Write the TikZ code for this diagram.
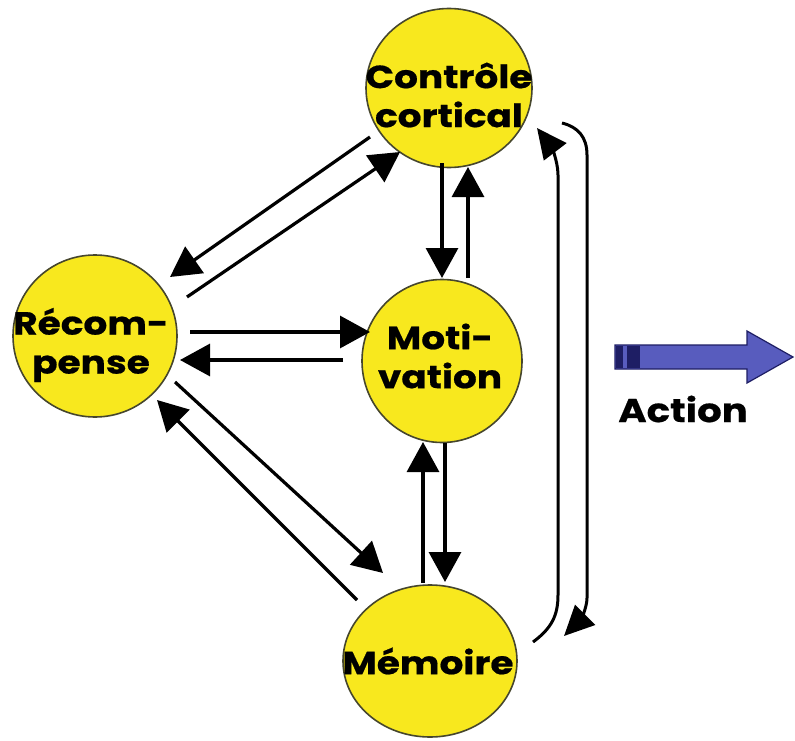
\documentclass[tikz,border=0pt]{standalone}
\usepackage{fontspec}
\setmainfont{Poppins}[BoldFeatures={FakeStretch=1.17,FakeBold=0.6}]
\usetikzlibrary{arrows.meta,calc,shapes.geometric}
\definecolor{cy}{RGB}{248,232,30}
\definecolor{co}{RGB}{70,70,45}
\definecolor{ab}{RGB}{88,92,190}
\definecolor{an}{RGB}{30,30,100}
\begin{document}
\begin{tikzpicture}[x=1pt,y=-1pt,
  bub/.style={ellipse, fill=cy, draw=co, line width=1.6pt, inner sep=0pt},
  arr/.style={line width=3.2pt, -{Triangle[length=30pt,width=32pt]}},
  brk/.style={line width=3pt, -{Triangle[length=30pt,width=28pt]}},
  lbl/.style={font=\fontsize{32}{39}\selectfont\bfseries, inner sep=0pt, align=center}]
\useasboundingbox (0,0) rectangle (795,741);
\fill[white] (0,0) rectangle (795,741);
% circles
\node[bub, minimum width=166pt, minimum height=159pt] (ctrl) at (449,88) {};
\node[bub, minimum width=164pt, minimum height=162pt] (rec) at (95,336) {};
\node[bub, minimum width=160pt, minimum height=163pt] (mot) at (442,361) {};
\node[bub, minimum width=174pt, minimum height=152pt] (mem) at (430,661) {};
\node[lbl] (ctrlt) at ($(ctrl)+(0,7)$) {Contrôle\\cortical};
\node[lbl] (rect) at ($(rec)+(-4,9)$) {Récom-\\pense};
\node[lbl] (mott) at ($(mot)+(-2,-5)$) {Moti-\\vation};
\node[lbl] (memt) at ($(mem)+(-2,0)$) {Mémoire};
% Contrôle <-> Récompense
\draw[arr] ($(ctrl)+(-79,49)$) -- ($(rec)+(75,-59)$);
\draw[arr] ($(rec)+(92,-39)$) -- ($(ctrl)+(-49,64)$);
% Récompense <-> Motivation
\draw[arr] ($(rec)+(95,-4)$) -- ($(mot)+(-72,-29)$);
\draw[arr] ($(mot)+(-99,-1)$) -- ($(rec)+(85,24)$);
% Récompense <-> Mémoire
\draw[arr] ($(rec)+(80,46)$) -- ($(mem)+(-47,-88)$);
\draw[arr] ($(mem)+(-73,-61)$) -- ($(rec)+(62,64)$);
% Contrôle <-> Motivation
\draw[arr] ($(ctrl)+(-7,75)$) -- ($(mot)+(0,-83)$);
\draw[arr] ($(mot)+(26,-83)$) -- ($(ctrl)+(19,79)$);
% Motivation <-> Mémoire
\draw[arr] ($(mem)+(-7,-78)$) -- ($(mot)+(-19,81)$);
\draw[arr] ($(mot)+(3,82)$) -- ($(mem)+(15,-79)$);
% long brackets Mémoire <-> Contrôle
\coordinate (m1) at (533,642);
\coordinate (c1) at (537,128);
\coordinate (c2) at (562,123);
\coordinate (m2) at (564,636);
\draw[brk] (m1) .. controls (552,628) and (558,615) .. (558,595) -- (558,175)
  .. controls (558,160) and (550,145) .. (c1);
\draw[brk] (c2) .. controls (578,127) and (587,137) .. (587,155) -- (587,598)
  .. controls (587,608) and (580,620) .. (m2);
% Action arrow
\filldraw[fill=ab, draw=an, line width=1.2pt] (615,345) -- (747,345) -- (747,331) -- (793,357)
  -- (747,383) -- (747,369) -- (615,369) -- cycle;
\fill[an] (616,346) rectangle (623,368);
\fill[an] (627,346) rectangle (640,368);
\node[lbl, font=\fontsize{33}{39}\selectfont\bfseries] (act) at (683,409) {Action};
\end{tikzpicture}
\end{document}
